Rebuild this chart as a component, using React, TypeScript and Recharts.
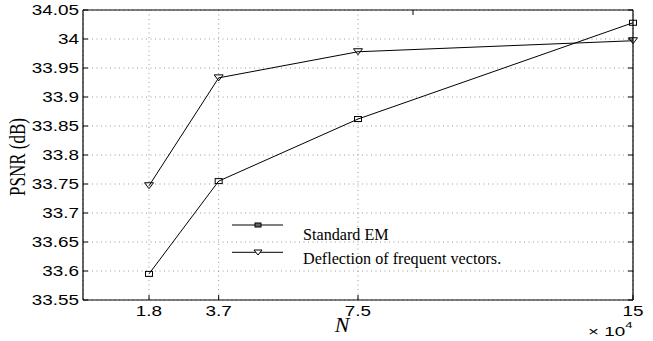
import React from 'react';
import { LineChart, Line, XAxis, YAxis, CartesianGrid, Legend } from 'recharts';

// ---- data ----
const nValues = [1.8, 3.7, 7.5, 15];
const standardEM = [33.595, 33.755, 33.862, 34.028];
const deflection = [33.747, 33.933, 33.978, 33.997];
const xTicks = [1.8, 3.7, 7.5, 15];
const yTicks = [33.55, 33.6, 33.65, 33.7, 33.75, 33.8, 33.85, 33.9, 33.95, 34, 34.05];
const seriesNames = ['Standard EM', 'Deflection of frequent vectors.'];
const xLabel = 'N';
const yLabel = 'PSNR (dB)';
const xExponent = '4';

const data = nValues.map((n, i) => ({ n, em: standardEM[i], defl: deflection[i] }));

const SANS = '"Liberation Sans", Arial, Helvetica, sans-serif';
const SERIF = '"Liberation Serif", "Times New Roman", serif';
const STRETCH = 1.35;

const fmt = (v: number) => String(Number(v.toFixed(2)));

const YTick = (props: any) => {
  const { x, y, payload } = props;
  return (
    <text
      transform={`translate(${x},${y}) scale(${STRETCH},1)`}
      textAnchor="end"
      dy="0.355em"
      fontFamily={SANS}
      fontSize={14}
      fill="#000"
    >
      {fmt(payload.value)}
    </text>
  );
};

const XTick = (props: any) => {
  const { x, y, payload } = props;
  return (
    <text
      transform={`translate(${x},${y}) scale(${STRETCH},1)`}
      textAnchor="middle"
      dy="0.71em"
      fontFamily={SANS}
      fontSize={14}
      fill="#000"
    >
      {fmt(payload.value)}
    </text>
  );
};

const SquareDot = (props: any) => {
  const { cx, cy, index } = props;
  return <rect key={`s${index}`} x={cx - 3.5} y={cy - 2.5} width={7} height={5} fill="none" stroke="#000" strokeWidth={1} />;
};

const TriDot = (props: any) => {
  const { cx, cy, index } = props;
  return (
    <path
      key={`t${index}`}
      d={`M${cx - 4.5},${cy - 3}L${cx + 4.5},${cy - 3}L${cx},${cy + 3}Z`}
      fill="none"
      stroke="#000"
      strokeWidth={1}
    />
  );
};

const LegendContent = () => (
  <svg width={300} height={58}>
    <line x1={4} y1={12} x2={55} y2={12} stroke="#000" strokeWidth={1} />
    <rect x={27} y={10} width={6} height={4} fill="#666" stroke="#000" />
    <text transform="translate(75,27) scale(0.95,1)" fontFamily={SERIF} fontSize={17} fill="#000">
      {seriesNames[0]}
    </text>
    <line x1={4} y1={39.3} x2={55} y2={39.3} stroke="#000" strokeWidth={1} />
    <path d="M26,37L34,37L30,42Z" fill="#fff" stroke="#000" />
    <text transform="translate(75,50.5) scale(0.95,1)" fontFamily={SERIF} fontSize={17} fill="#000">
      {seriesNames[1]}
    </text>
  </svg>
);

export default function App() {
  return (
    <div style={{ position: 'absolute', left: 0, top: 0, background: '#fff' }}>
      <LineChart width={653} height={341} data={data} margin={{ top: 9, right: 19, bottom: 0, left: 0 }}>
        <CartesianGrid stroke="#999" strokeDasharray="1 3.5" />
        <XAxis
          dataKey="n"
          type="number"
          domain={[0, 15]}
          ticks={xTicks}
          height={41}
          tickSize={-5}
          tickMargin={11}
          tick={<XTick />}
          axisLine={{ stroke: '#000', strokeWidth: 1.2 }}
          tickLine={{ stroke: '#000' }}
          interval={0}
        />
        <XAxis
          xAxisId="top"
          orientation="top"
          type="number"
          domain={[0, 15]}
          ticks={xTicks}
          height={1}
          tickSize={-5}
          tickFormatter={() => ''}
          axisLine={{ stroke: '#000', strokeWidth: 1.2 }}
          tickLine={{ stroke: '#000' }}
          interval={0}
        />
        <YAxis
          type="number"
          domain={[33.55, 34.05]}
          ticks={yTicks}
          width={83}
          tickSize={-5}
          tickMargin={9}
          tick={<YTick />}
          axisLine={{ stroke: '#000', strokeWidth: 1.2 }}
          tickLine={{ stroke: '#000' }}
          interval={0}
          allowDataOverflow
        />
        <YAxis
          yAxisId="right"
          orientation="right"
          type="number"
          domain={[33.55, 34.05]}
          ticks={yTicks}
          width={1}
          tickSize={-5}
          tickFormatter={() => ''}
          axisLine={{ stroke: '#000', strokeWidth: 1.2 }}
          tickLine={{ stroke: '#000' }}
          interval={0}
          allowDataOverflow
        />
        <Line
          dataKey="em"
          name={seriesNames[0]}
          stroke="#000"
          strokeWidth={1}
          dot={SquareDot}
          activeDot={false}
          isAnimationActive={false}
        />
        <Line
          dataKey="defl"
          name={seriesNames[1]}
          stroke="#000"
          strokeWidth={1}
          dot={TriDot}
          activeDot={false}
          isAnimationActive={false}
        />
        <Legend
          layout="vertical"
          align="center"
          verticalAlign="middle"
          content={<LegendContent />}
          wrapperStyle={{ left: 228, top: 213, width: 300, height: 58 }}
        />
        <text
          transform={`translate(17,157) rotate(-90) scale(1,${STRETCH})`}
          textAnchor="middle"
          dy="0.35em"
          fontFamily={SERIF}
          fontSize={17}
          fill="#000"
        >
          {yLabel}
        </text>
        <text x={342} y={324} textAnchor="middle" dy="0.35em" fontFamily={SERIF} fontStyle="italic" fontSize={22} fill="#000">
          {xLabel}
        </text>
        <text transform="translate(588,336) scale(1.45,1)" fontFamily={SANS} fontSize={13} fill="#000">
          {'× 10'}
          <tspan dy={-8} fontSize={9}>
            {xExponent}
          </tspan>
        </text>
      </LineChart>
    </div>
  );
}
